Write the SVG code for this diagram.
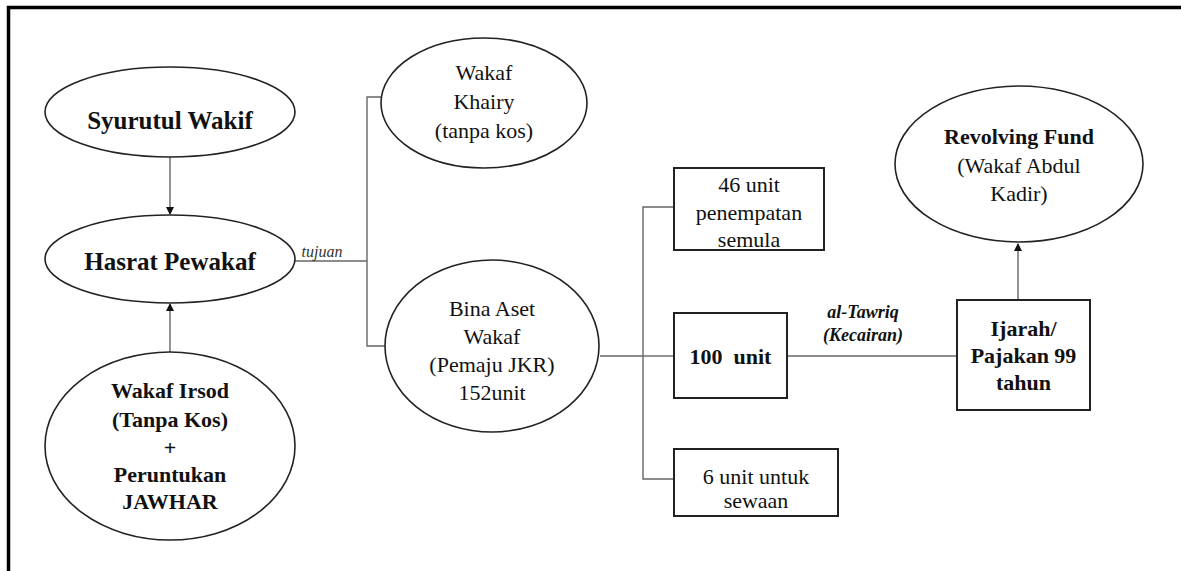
<svg xmlns="http://www.w3.org/2000/svg" width="1181" height="571" viewBox="0 0 1181 571" font-family="'Liberation Serif', 'Times New Roman', serif">
<style>
.bg{fill:#fff}
.frame{stroke:#000;stroke-width:3.5;fill:none}
.ell{fill:#fff;stroke:#222;stroke-width:1.6}
.box{fill:#fff;stroke:#222;stroke-width:2}
.con{fill:none;stroke:#666;stroke-width:1.4}
text{font-family:'Liberation Serif', 'Times New Roman', serif;fill:#111;text-anchor:middle;font-size:22px}
.b{font-weight:bold}
.big{font-size:25px}
.lbl{font-style:italic;font-size:16px;fill:#333}
.lblb{font-style:italic;font-weight:bold;font-size:18px}
</style>
<defs>
<marker id="arr" markerWidth="8" markerHeight="8" refX="7" refY="4" orient="auto" markerUnits="userSpaceOnUse">
<path d="M0,0 L8,4 L0,8 z" fill="#111"/>
</marker>
</defs>
<rect class="bg" x="0" y="0" width="1181" height="571"/>
<path class="frame" d="M8.5,571 L8.5,7.5 L1181,7.5"/>

<g id="connectors">
<line class="con" x1="170" y1="157" x2="170" y2="214" marker-end="url(#arr)"/>
<line class="con" x1="170" y1="352" x2="170" y2="304" marker-end="url(#arr)"/>
<polyline class="con" points="295,261 367,261"/>
<polyline class="con" points="385,97 367,97 367,346 386,346"/>
<polyline class="con" points="600,356 643,356"/>
<polyline class="con" points="674,207 643,207 643,479 674,479"/>
<polyline class="con" points="643,356 674,356"/>
<polyline class="con" points="787,356 957,356"/>
<line class="con" x1="1018" y1="300" x2="1018" y2="244" marker-end="url(#arr)"/>
<text class="lbl" x="322" y="257">tujuan</text>
<text class="lblb" x="863" y="318">al-Tawriq</text>
<text class="lblb" x="863" y="341">(Kecairan)</text>
</g>

<g id="syurutul">
<ellipse class="ell" cx="170" cy="112" rx="125" ry="45"/>
<text class="b big" x="170" y="129">Syurutul Wakif</text>
</g>

<g id="hasrat">
<ellipse class="ell" cx="170" cy="259" rx="125" ry="44"/>
<text class="b big" x="170" y="270">Hasrat Pewakaf</text>
</g>

<g id="irsod">
<ellipse class="ell" cx="170" cy="446" rx="125" ry="94"/>
<text class="b" x="170" y="398">Wakaf Irsod</text>
<text class="b" x="170" y="427">(Tanpa Kos)</text>
<text class="b" x="170" y="455">+</text>
<text class="b" x="170" y="482">Peruntukan</text>
<text class="b" x="170" y="509">JAWHAR</text>
</g>

<g id="khairy">
<ellipse class="ell" cx="484" cy="103" rx="103" ry="65"/>
<text x="484" y="80">Wakaf</text>
<text x="484" y="109">Khairy</text>
<text x="484" y="138">(tanpa kos)</text>
</g>

<g id="bina">
<ellipse class="ell" cx="492" cy="346" rx="107" ry="86"/>
<text x="492" y="316">Bina Aset</text>
<text x="492" y="344">Wakaf</text>
<text x="492" y="372">(Pemaju JKR)</text>
<text x="492" y="400">152unit</text>
</g>

<g id="unit46">
<rect class="box" x="674" y="168" width="150" height="82"/>
<text x="749" y="192">46 unit</text>
<text x="749" y="220">penempatan</text>
<text x="749" y="247">semula</text>
</g>

<g id="unit100">
<rect class="box" x="674" y="313" width="113" height="85"/>
<text class="b" x="730.5" y="364" font-size="23" xml:space="preserve">100  unit</text>
</g>

<g id="unit6">
<rect class="box" x="674" y="449" width="164" height="67"/>
<text x="756" y="484" font-size="21">6 unit untuk</text>
<text x="756" y="508" font-size="21">sewaan</text>
</g>

<g id="ijarah">
<rect class="box" x="957" y="300" width="133" height="110"/>
<text class="b" x="1023.5" y="336">Ijarah/</text>
<text class="b" x="1023.5" y="363">Pajakan 99</text>
<text class="b" x="1023.5" y="390">tahun</text>
</g>

<g id="revolving">
<ellipse class="ell" cx="1019" cy="164" rx="124" ry="78"/>
<text class="b" x="1019" y="144">Revolving Fund</text>
<text x="1019" y="173">(Wakaf Abdul</text>
<text x="1019" y="201">Kadir)</text>
</g>
</svg>
